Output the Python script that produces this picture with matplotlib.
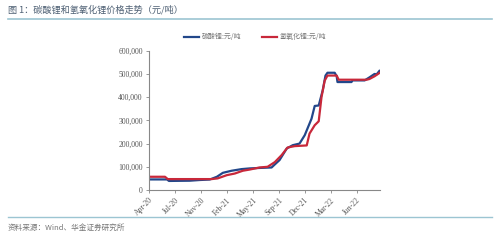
import matplotlib
matplotlib.use("Agg")
import matplotlib.pyplot as plt
from matplotlib.lines import Line2D
from matplotlib.ticker import FuncFormatter

plt.rcParams['font.family'] = ['Noto Sans CJK SC', 'DejaVu Sans']

# x = trading-day index, ticks every 65 days
tick_labels = ["Apr-20", "Jul-20", "Nov-20", "Feb-21", "May-21", "Sep-21", "Dec-21", "Mar-22", "Jun-22"]
tick_step = 65

carb_x = [0, 45, 50, 102, 127, 152, 170, 185, 207, 232, 252, 277, 307, 315, 327, 345, 360, 377, 390,
          407, 415, 425, 435, 442, 447, 465, 470, 472, 507, 510, 540, 552, 565, 570, 577]
carb_y = [45500, 45500, 39000, 40000, 43000, 45000, 57000, 74000, 83000, 90000, 93000, 95000, 97000,
          110000, 129000, 179000, 193000, 200000, 236000, 307000, 362000, 364000, 429000, 493000, 505000,
          505000, 490000, 465000, 465000, 472000, 472000, 485000, 500000, 498000, 513000]

hydr_x = [0, 40, 47, 157, 172, 195, 215, 235, 252, 277, 297, 315, 332, 347, 365, 395, 402, 415, 425,
          432, 440, 447, 470, 475, 545, 552, 565, 577]
hydr_y = [57000, 57000, 47000, 47000, 50000, 64000, 71000, 83000, 88000, 97000, 100000, 120000, 150000,
          183000, 189000, 192000, 243000, 279000, 296000, 400000, 471000, 493000, 493000, 475000, 475000,
          478000, 490000, 504000]

fig = plt.figure(figsize=(5.0, 2.41), dpi=100)
W, H = 500, 241
ax = fig.add_axes([149 / W, 1 - 190 / H, (380 - 149) / W, (190 - 50.7) / H])

blue = "#22478a"
red = "#c8283a"
ax.plot(carb_x, carb_y, color=blue, lw=1.6, solid_joinstyle='round')
ax.plot(hydr_x, hydr_y, color=red, lw=1.6, solid_joinstyle='round')

ax.set_ylim(0, 600000)
ax.set_xlim(0, 8.9 * tick_step)
ax.set_yticks(range(0, 600001, 100000))
ax.yaxis.set_major_formatter(FuncFormatter(lambda v, p: "0" if v == 0 else f"{int(v):,}"))
ax.set_xticks([i * tick_step for i in range(len(tick_labels))])
ax.set_xticklabels(tick_labels, rotation=45, ha='right', rotation_mode='anchor')

for s in ['top', 'right']:
    ax.spines[s].set_visible(False)
for s in ['left', 'bottom']:
    ax.spines[s].set_color('#888888')
    ax.spines[s].set_linewidth(0.8)
ax.tick_params(axis='both', colors='#888888', length=2.5, width=0.6, labelsize=5, pad=2)
for lab in ax.get_xticklabels() + ax.get_yticklabels():
    lab.set_fontfamily('Liberation Serif')
    lab.set_color('#555555')
    lab.set_fontsize(5.5)

# legend
handles = [Line2D([], [], color=blue, lw=1.6), Line2D([], [], color=red, lw=1.6)]
fig.legend(handles, ["碳酸锂:元/吨", "氢氧化锂:元/吨"], loc='center', bbox_to_anchor=(0.51, 1 - 37 / H),
           ncol=2, frameon=False, fontsize=5, handlelength=2.2, handletextpad=0.3, columnspacing=3,
           labelcolor='#777777')

# title and source
fig.text(8 / W, 1 - 10 / H, "图 1：碳酸锂和氢氧化锂价格走势（元/吨）", fontsize=6.6, color='#4d5f73',
         va='center', ha='left')
fig.add_artist(Line2D([8 / W, 492 / W], [1 - 19 / H, 1 - 19 / H], color='#9cc5d2', lw=1.2))
fig.add_artist(Line2D([8 / W, 492 / W], [1 - 217 / H, 1 - 217 / H], color='#9cc5d2', lw=1.0))
fig.text(8 / W, 1 - 228 / H, "资料来源：Wind、华金证券研究所", fontsize=5.5, color='#777777',
         va='center', ha='left', style='italic')

fig.savefig("out.png", dpi=100, facecolor='white')
